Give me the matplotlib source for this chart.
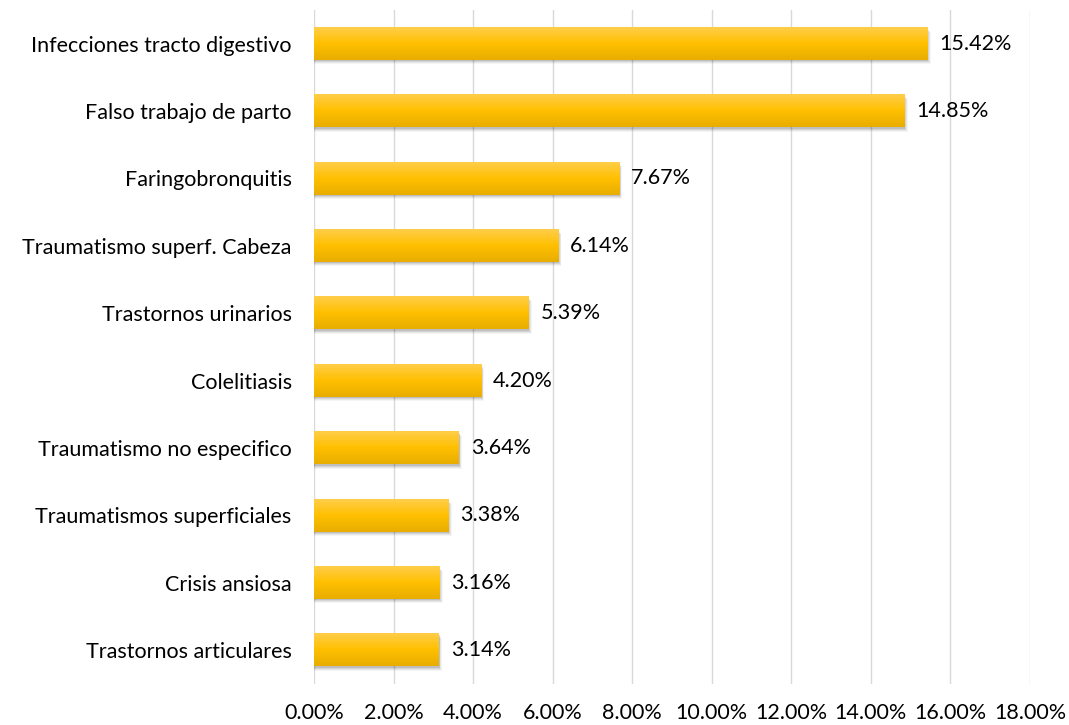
import matplotlib
matplotlib.use("Agg")
import matplotlib.pyplot as plt
import numpy as np
from matplotlib.colors import LinearSegmentedColormap
from matplotlib.patches import Rectangle

categories = ["Infecciones tracto digestivo", "Falso trabajo de parto", "Faringobronquitis",
              "Traumatismo superf. Cabeza", "Trastornos urinarios", "Colelitiasis",
              "Traumatismo no especifico", "Traumatismos superficiales", "Crisis ansiosa",
              "Trastornos articulares"]
values = [15.42, 14.85, 7.67, 6.14, 5.39, 4.20, 3.64, 3.38, 3.16, 3.14]
xticks = [0, 2, 4, 6, 8, 10, 12, 14, 16, 18]

plt.rcParams['font.family'] = ['Lato', 'DejaVu Sans']
fig = plt.figure(figsize=(10.69, 7.25), dpi=100)
ax = fig.add_axes([0.2937, 0.0566, 0.6698, 0.9296])

n = len(categories)
ypos = np.arange(n)
h = 0.48
cmap = LinearSegmentedColormap.from_list("g", ["#FFCD4A", "#FFC000", "#E8AD00"])
grad = np.linspace(0, 1, 64).reshape(-1, 1)
fs = 15.5

ax.set_xlim(0, 18)
ax.set_ylim(n - 0.5, -0.5)
for x in xticks:
    ax.axvline(x, color="#D9D9D9", lw=1, zorder=0)

for y, v in zip(ypos, values):
    # soft shadow
    for k, a in enumerate([0.10, 0.08, 0.06, 0.04]):
        off = 0.02 + k * 0.015
        ax.add_patch(Rectangle((0.0, y - h / 2 + off), v + 0.02 + k * 0.02, h,
                               facecolor="#000000", alpha=a, lw=0, zorder=1))
    ax.barh(y, v, height=h, color="none", zorder=2)
    ax.imshow(grad, cmap=cmap, aspect="auto", extent=(0, v, y + h / 2, y - h / 2),
              zorder=3, interpolation="bilinear")
    ax.text(v + 0.3, y, f"{v:.2f}%", va="center", ha="left", fontsize=fs,
            color="#000000", zorder=4)

ax.set_xlim(0, 18)
ax.set_ylim(n - 0.5, -0.5)
ax.set_yticks(ypos)
ax.set_yticklabels(categories, fontsize=fs)
ax.set_xticks(xticks)
ax.set_xticklabels([f"{x:.2f}%" for x in xticks], fontsize=fs)
ax.tick_params(length=0)
ax.tick_params(axis="x", pad=14)
ax.tick_params(axis="y", pad=16)
for s in ax.spines.values():
    s.set_visible(False)

fig.savefig("out.png", dpi=100)
